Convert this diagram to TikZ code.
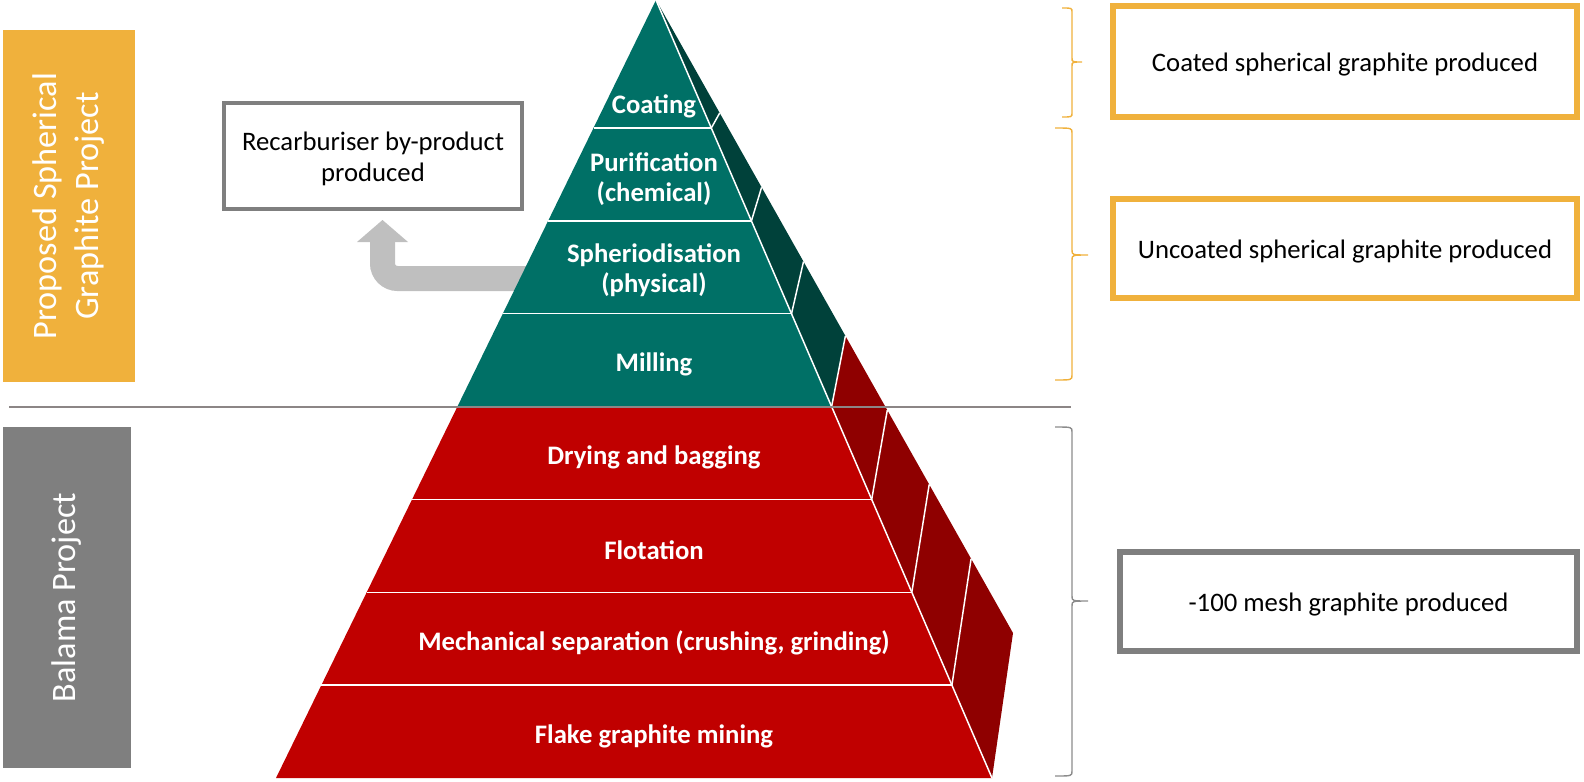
\documentclass[tikz,border=0pt]{standalone}
\usepackage{fontspec}
\setmainfont{Carlito}
\definecolor{teal1}{RGB}{0,112,102}
\definecolor{teal2}{RGB}{0,65,58}
\definecolor{red1}{RGB}{192,0,0}
\definecolor{red2}{RGB}{143,0,0}
\definecolor{orng}{RGB}{240,177,60}
\definecolor{gbar}{RGB}{127,127,127}
\definecolor{arrowgray}{RGB}{191,191,191}
\definecolor{sepgray}{RGB}{140,134,134}
\definecolor{bracegray}{RGB}{140,140,140}
\begin{document}
\begin{tikzpicture}[x=0.02cm,y=-0.02cm,
  lbl/.style={text=white,font=\fontsize{15.2}{17.3}\selectfont\bfseries,align=center,inner sep=0pt,yshift=-0.04cm},
  boxtxt/.style={font=\fontsize{15.2}{17.3}\selectfont,align=center,inner sep=0pt,yshift=-0.06cm},
  bartxt/.style={text=white,font=\fontsize{19.5}{23.9}\selectfont,align=center,rotate=90,inner sep=0pt},
  sep/.style={white,line width=0.85pt},
  obox/.style={draw=orng,line width=3.4pt,rectangle,inner sep=0pt},
  gbox/.style={draw=gbar,line width=3.4pt,rectangle,inner sep=0pt},
  obrace/.style={draw=orng,line width=0.8pt},
  gbrace/.style={draw=bracegray,line width=0.8pt}]
\useasboundingbox (0,0) rectangle (1584,781);

% side bars
\node[fill=orng,minimum width=2.64cm,minimum height=7.04cm,inner sep=0pt] (barA) at (69,206) {};
\node[bartxt] (barAt) at (barA) {Proposed Spherical\\Graphite Project};
\node[fill=gbar,minimum width=2.56cm,minimum height=6.82cm,inner sep=0pt] (barB) at (67,597.5) {};
\node[bartxt] (barBt) at (barB) {Balama Project};

% gray elbow arrow (behind pyramid)
\coordinate (arS) at (560,278.5);
\coordinate (arK) at (382.5,278.5);
\coordinate (arE) at (382.5,240);
\draw[arrowgray,line width=0.5cm,rounded corners=0.3cm] (arS) -- (arK) -- (arE);
\coordinate (ah1) at (357,242);
\coordinate (ah2) at (408,242);
\coordinate (ahT) at (382.5,220);
\fill[arrowgray] (ah1) -- (ah2) -- (ahT) -- cycle;

% pyramid coordinates
\coordinate (A) at (656,0);
\coordinate (L1) at (593.5,128);   \coordinate (R1) at (711.3,128);   \coordinate (S1) at (719.7,113.0);
\coordinate (L2) at (548.1,220.9); \coordinate (R2) at (751.4,220.9); \coordinate (S2) at (761.6,187.3);
\coordinate (L3) at (502.8,313.7); \coordinate (R3) at (791.5,313.7); \coordinate (S3) at (803.5,261.6);
\coordinate (L4) at (457.4,406.6); \coordinate (R4) at (831.6,406.6); \coordinate (S4) at (845.4,335.9);
\coordinate (L5) at (412.1,499.4); \coordinate (R5) at (871.7,499.4); \coordinate (S5) at (887.3,410.1);
\coordinate (L6) at (366.7,592.3); \coordinate (R6) at (911.8,592.3); \coordinate (S6) at (929.2,484.4);
\coordinate (L7) at (321.4,685.1); \coordinate (R7) at (951.9,685.1); \coordinate (S7) at (971.1,558.7);
\coordinate (L8) at (276,778);     \coordinate (R8) at (992,778);     \coordinate (S8) at (1013,633);

\fill[teal1] (A) -- (R4) -- (L4) -- cycle;
\fill[red1] (L4) -- (R4) -- (R8) -- (L8) -- cycle;
\fill[teal2] (A) -- (S4) -- (R4) -- cycle;
\fill[red2] (R4) -- (S4) -- (S8) -- (R8) -- cycle;
\foreach \j in {1,...,7} {
  \draw[sep] (L\j) -- (R\j);
  \draw[sep] (R\j) -- (S\j);
}
\draw[sep] (A) -- (R8);

% separator line
\coordinate (sepL) at (9,407);
\coordinate (sepR) at (1071,407);
\draw[sepgray,line width=1.4pt] (sepL) -- (sepR);

% pyramid labels
\node[lbl] (coat) at (654,104) {Coating};
\node[lbl] (puri) at (654,177) {Purification\\(chemical)};
\node[lbl] (sphe) at (654,268) {Spheriodisation\\(physical)};
\node[lbl] (mill) at (654,362) {Milling};
\node[lbl] (dry) at (654,455) {Drying and bagging};
\node[lbl] (flot) at (654,548) {Flotation};
\node[lbl] (mech) at (654,641) {Mechanical separation (crushing, grinding)};
\node[lbl] (flak) at (654,734) {Flake graphite mining};

% boxes
\node[gbox,draw=gbar,line width=2.2pt,minimum width=5.96cm,minimum height=2.12cm,fill=white] (recb) at (373,156) {};
\node[boxtxt] (recbt) at (recb) {Recarburiser by-product\\produced};
\node[obox,minimum width=9.28cm,minimum height=2.22cm] (box1) at (1345,61.9) {};
\node[boxtxt] (box1t) at (box1) {Coated spherical graphite produced};
\node[obox,minimum width=9.28cm,minimum height=1.98cm] (box2) at (1345,248.5) {};
\node[boxtxt] (box2t) at (box2) {Uncoated spherical graphite produced};
\node[gbox,minimum width=9.14cm,minimum height=1.98cm] (box3) at (1348.5,601.5) {};
\node[boxtxt] (box3t) at (box3) {-100 mesh graphite produced};

% braces
\draw[obrace] (1062,8) .. controls (1072,8) .. (1072,12) -- (1072,58) .. controls (1072,62) .. (1082,62)
  .. controls (1072,62) .. (1072,66) -- (1072,113) .. controls (1072,117) .. (1062,117);
\draw[obrace] (1055,128) .. controls (1072,128) .. (1072,133) -- (1072,250) .. controls (1072,255) .. (1088,255)
  .. controls (1072,255) .. (1072,260) -- (1072,375) .. controls (1072,380) .. (1055,380);
\draw[gbrace] (1055,427) .. controls (1072,427) .. (1072,432) -- (1072,596) .. controls (1072,601) .. (1088,601)
  .. controls (1072,601) .. (1072,606) -- (1072,771) .. controls (1072,776) .. (1055,776);
\end{tikzpicture}
\end{document}
